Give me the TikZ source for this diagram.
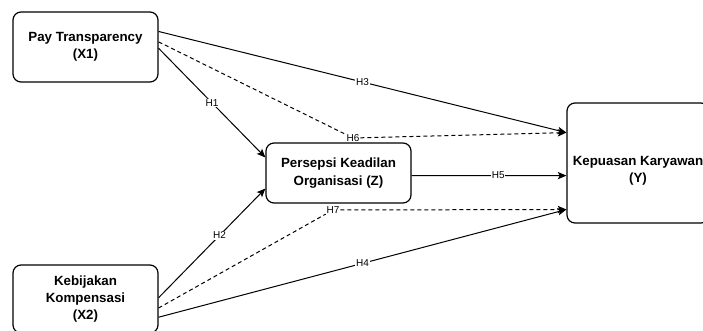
\documentclass[tikz,border=0pt]{standalone}
\usepackage{fontspec}
\setmainfont{Liberation Sans}
\usetikzlibrary{arrows.meta}

\begin{document}
\begin{tikzpicture}[x=0.75pt,y=-0.75pt]
\tikzstyle{construct}=[draw, rounded corners=6pt, line width=0.9pt, align=center, inner sep=0pt, font=\bfseries\fontsize{10}{13}\selectfont]
\tikzstyle{effect}=[line width=0.75pt, -{Stealth[length=6.5pt,width=5.5pt,inset=1.5pt]}]
\tikzstyle{mediated}=[effect, dash pattern=on 3pt off 2.25pt]
\tikzstyle{hyp}=[fill=white, inner sep=0.5pt, font=\fontsize{7.5}{9}\selectfont]
\clip (0,0) rectangle (703,331);
% constructs
\node[construct, minimum width=108.75pt, minimum height=52.5pt] (x1) at (85.5,47) {Pay Transparency\\(X1)};
\node[construct, minimum width=108.75pt, minimum height=51pt] (x2) at (85.5,299) {Kebijakan\\Kompensasi\\(X2)};
\node[construct, minimum width=108.75pt, minimum height=45pt] (z) at (338.5,173) {Persepsi Keadilan\\Organisasi (Z)};
\node[construct, minimum width=106.5pt, minimum height=90pt] (y) at (638,163) {};
\node[align=center, font=\bfseries\fontsize{10}{13}\selectfont] (ytext) at ([yshift=-6pt]y.center) {Kepuasan Karyawan\\(Y)};
% direct effects
\draw[effect] (x1.-1) -- node[hyp] {H1} (z.168);
\draw[effect] (x2.1) -- node[hyp, pos=0.57] {H2} (z.192);
\draw[effect] (x1.12) -- node[hyp] {H3} (y.157);
\draw[effect] (x2.-14) -- node[hyp] {H4} (y.213);
\draw[effect] (z.-2) -- node[hyp, pos=0.56] {H5} (y.190);
% mediated effects
\node[hyp] (h6) at (353,138) {H6};
\node[hyp] (h7) at (333,210) {H7};
\draw[mediated, -] (x1.4) -- (h6);
\draw[mediated] (h6) -- (y.157);
\draw[mediated, -] (x2.-7) -- (h7);
\draw[mediated] (h7) -- (y.213);
\end{tikzpicture}
\end{document}
